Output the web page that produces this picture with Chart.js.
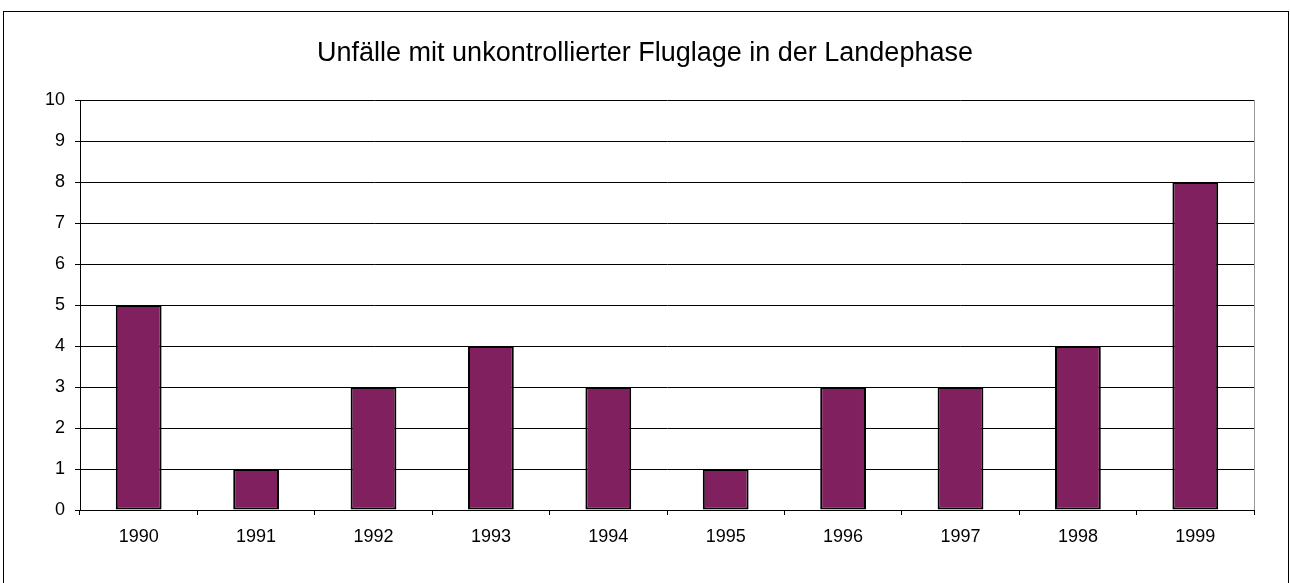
<!DOCTYPE html>
<html>
<head>
<meta charset="utf-8">
<script src="https://cdn.jsdelivr.net/npm/chart.js@4"></script>
<style>
  html, body { margin: 0; padding: 0; background: #fff; }
  #wrap { width: 1290px; height: 583px; }
</style>
</head>
<body>
<div id="wrap"><canvas id="chart" width="1290" height="583"></canvas></div>
<script>
// Daten
var jahre = ['1990', '1991', '1992', '1993', '1994', '1995', '1996', '1997', '1998', '1999'];
var unfaelle = [5, 1, 3, 4, 3, 1, 3, 3, 4, 8];
var titel = 'Unfälle mit unkontrollierter Fluglage in der Landephase';

// Rahmen um das ganze Diagramm + grauer rechter Rand der Zeichenfläche
var rahmen = {
	id: 'rahmen',
	afterDraw: function(chart) {
		var ctx = chart.ctx;
		var a = chart.chartArea;
		ctx.save();
		ctx.strokeStyle = '#000';
		ctx.lineWidth = 1;
		ctx.strokeRect(3.5, 11.5, 1285, 600);
		ctx.strokeStyle = '#999';
		ctx.beginPath();
		ctx.moveTo(Math.round(a.right) + 0.5, a.top);
		ctx.lineTo(Math.round(a.right) + 0.5, a.bottom);
		ctx.stroke();
		ctx.restore();
	}
};

var chartArea = document.getElementById('chart');
var myChart = new Chart(chartArea, {
	type: 'bar',
	data: {
		labels: jahre,
		datasets: [
			{
				label: 'Unfälle',
				data: unfaelle,
				backgroundColor: '#80205f',
				borderColor: '#000',
				borderWidth: 2,
				borderSkipped: false,
				categoryPercentage: 1.0,
				barPercentage: 0.39
			}
		]
	},
	options: {
		responsive: false,
		animation: false,
		devicePixelRatio: 1,
		layout: {
			padding: 0
		},
		plugins: {
			legend: { display: false },
			tooltip: { enabled: false },
			title: {
				display: true,
				text: titel,
				color: '#000',
				font: { family: 'Liberation Sans, Arial, sans-serif', size: 27, weight: 'normal' },
				padding: { top: 37.8, bottom: 29.8 }
			}
		},
		scales: {
			x: {
				grid: {
					display: true,
					drawOnChartArea: false,
					drawTicks: true,
					tickLength: 5,
					color: '#000',
					offset: true
				},
				border: { display: true, color: '#000', width: 1 },
				ticks: {
					color: '#000',
					padding: 11,
					font: { family: 'Liberation Sans, Arial, sans-serif', size: 18 }
				},
				afterFit: function(scale) { scale.height = 73; }
			},
			y: {
				min: 0,
				max: 10,
				grid: {
					color: '#000',
					tickLength: 5,
					drawTicks: true
				},
				border: { display: true, color: '#000', width: 1 },
				ticks: {
					stepSize: 1,
					color: '#000',
					padding: 10,
					font: { family: 'Liberation Sans, Arial, sans-serif', size: 18 }
				},
				afterFit: function(scale) { scale.width = 80; }
			},
			// leere Achse rechts, nur als Abstand
			rechts: {
				position: 'right',
				min: 0,
				max: 10,
				grid: { display: false },
				border: { display: false },
				ticks: { display: false },
				afterFit: function(scale) { scale.width = 36; }
			}
		}
	},
	plugins: [rahmen]
});
</script>
</body>
</html>
